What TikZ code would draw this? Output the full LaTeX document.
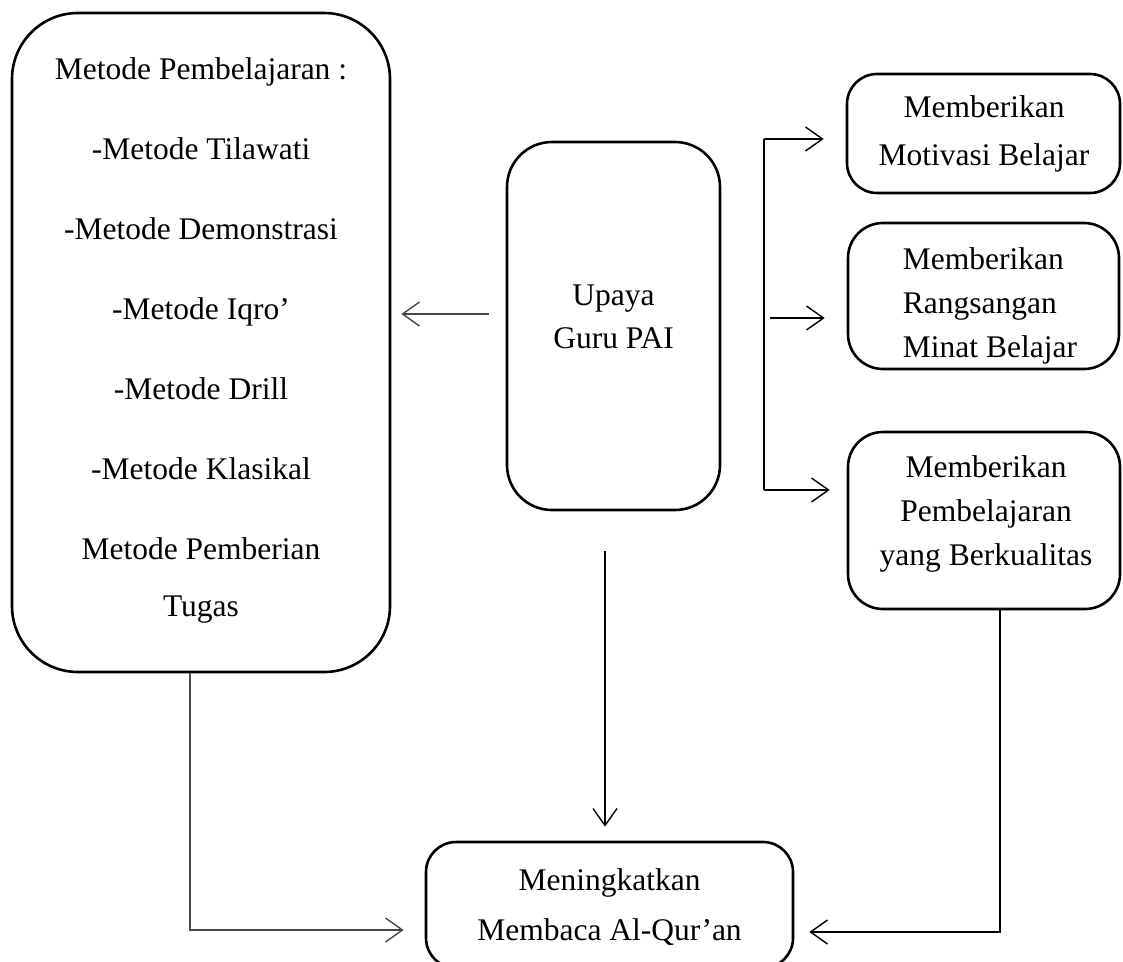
\documentclass[tikz,border=0pt]{standalone}
\usepackage{fontspec}
\setmainfont{Liberation Serif}
\usetikzlibrary{arrows.meta}
\definecolor{lg}{RGB}{72,72,72}
\begin{document}
\begin{tikzpicture}[x=1pt,y=-1pt,
  box/.style={draw, line width=2.6pt, rounded corners=#1, inner sep=0pt},
  box/.default=35pt,
  txt/.style={align=center, inner sep=0pt},
  conn/.style={line width=1.4pt},
  arr/.style={conn, -{Straight Barb[length=17pt,width=24pt]}}]
\useasboundingbox (0,0) rectangle (1123,961);

% boxes
\node[box=66pt, minimum width=378pt, minimum height=659pt] (metode) at (201,342.5) {};
\node[box=45pt, minimum width=213pt, minimum height=368pt] (upaya) at (613.5,326) {};
\node[box=30pt, minimum width=273pt, minimum height=119pt] (motiv) at (983.5,133.5) {};
\node[box=35pt, minimum width=271pt, minimum height=146pt] (rangs) at (983.5,296) {};
\node[box=35pt, minimum width=272pt, minimum height=177pt] (kual) at (984,520.5) {};
\node[box=30pt, minimum width=367pt, minimum height=126pt] (goal) at (609.5,905) {};

% texts
\node[txt, font=\fontsize{31.5}{80}\selectfont] (metodeT) at (201,340)
  {Metode Pembelajaran :\\-Metode Tilawati\\-Metode Demonstrasi\\-Metode Iqro’\\-Metode Drill\\-Metode Klasikal\\Metode Pemberian\\[-23pt]Tugas};
\node[txt, font=\fontsize{31.5}{43}\selectfont] (upayaT) at (613.5,316.5) {Upaya\\Guru PAI};
\node[txt, font=\fontsize{31.5}{48}\selectfont] (motivT) at (984,134) {Memberikan\\Motivasi Belajar};
\node[txt, align=left, font=\fontsize{31.5}{44}\selectfont] (rangsT) at (990,306) {Memberikan\\Rangsangan\\Minat Belajar};
\node[txt, font=\fontsize{31.5}{44}\selectfont] (kualT) at (986,514) {Memberikan\\Pembelajaran\\yang Berkualitas};
\node[txt, font=\fontsize{31.5}{50}\selectfont] (goalT) at (609.5,907) {Meningkatkan\\Membaca Al-Qur’an};

% helper coordinates
\coordinate (bt) at (764,139);
\coordinate (bm) at (770,318);
\coordinate (bb) at (764,490);
\coordinate (dx) at (605,0);
\coordinate (lc) at (190,0);
\coordinate (rc) at (1000,0);
\coordinate (lr) at (0,930);
\coordinate (rr) at (0,932);

% connectors
\draw[arr, lg, shorten <=17pt, shorten >=10pt] ([yshift=12pt]upaya.west) -- ([yshift=12pt]upaya.west -| metode.east);
\draw[conn] (bt) -- (bb);
\draw[arr, shorten >=22pt] (bt) -- (motiv.west |- bt);
\draw[arr, shorten >=22pt] (bm) -- (rangs.west |- bm);
\draw[arr, shorten >=17pt] (bb) -- (kual.west |- bb);
\draw[arr, shorten <=40pt, shorten >=14pt] (upaya.south -| dx) -- (goal.north -| dx);
\draw[arr, lg, shorten >=21pt] (metode.south -| lc) |- (goal.west |- lr);
\draw[arr, shorten >=15pt] (kual.south -| rc) |- (goal.east |- rr);
\end{tikzpicture}
\end{document}
